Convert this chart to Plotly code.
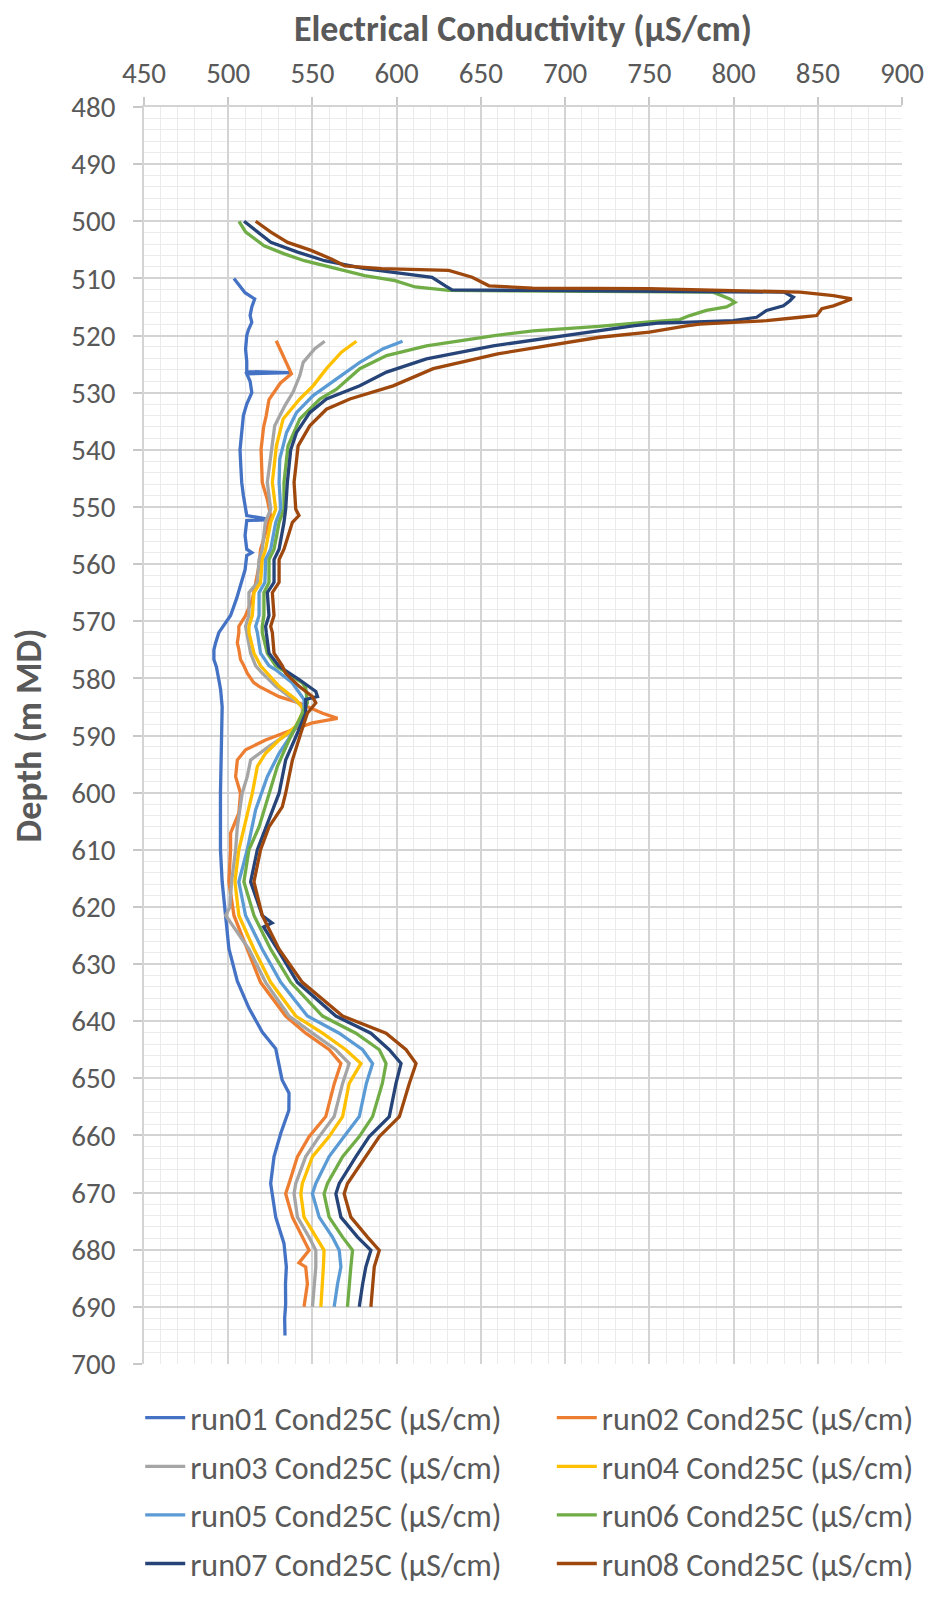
import plotly.graph_objects as go

# ---------------- data (depth in m MD, conductivity in µS/cm) ----------------
names = ["run01 Cond25C (µS/cm)", "run02 Cond25C (µS/cm)", "run03 Cond25C (µS/cm)",
         "run04 Cond25C (µS/cm)", "run05 Cond25C (µS/cm)", "run06 Cond25C (µS/cm)",
         "run07 Cond25C (µS/cm)", "run08 Cond25C (µS/cm)"]
colors = ["#4472C4", "#ED7D31", "#A5A5A5", "#FFC000", "#5B9BD5", "#70AD47", "#264478", "#9E480E"]

d01 = [510, 511, 512.5, 513.6, 515, 516.5, 517.7, 519, 520, 522.4, 524.5, 526.3, 526.5, 526.7, 528,
       530, 532, 534, 537, 540, 543, 545.7, 548, 551.5, 552.2, 552.4, 555, 557.4, 558, 558.5, 561,
       563.2, 566, 569, 571, 572, 573.8, 575, 576.7, 578, 580.2, 582, 585, 590, 594.3, 600, 605,
       610, 615.6, 621.4, 627.3, 633, 637.7, 641.9, 644.8, 647.7, 650.3, 652.6, 655.6, 659.6,
       663.7, 668.4, 674.3, 678.9, 683, 686, 689.5, 692, 695]
v01 = [503.4, 506, 510, 515.7, 514, 513, 514, 512, 511, 510.3, 511, 511, 537, 511, 513,
       514, 511, 509, 508, 507, 507.5, 508, 509, 511, 525, 511, 510, 511, 514, 511, 510,
       508, 505, 501.4, 497, 494.4, 492.5, 491.5, 491.5, 493, 494.4, 495.5, 496.4, 496, 495.4, 495.4, 495.4,
       495.4, 496.4, 498.4, 500.4, 505.4, 512.3, 520.2, 528.2, 530.2, 532, 536.1, 536, 531.2,
       527.2, 525.2, 528.2, 533.1, 534.5, 534, 534.1, 533.5, 533.7]

d02 = [520.9, 522.9, 525.3, 526.7, 528.3, 531.2, 534.1, 536, 539.9, 543, 545.7, 548.7, 551.6, 554.5,
       557.4, 560.3, 563.2, 566.2, 569, 570.9, 572, 573.8, 574.9, 576.7, 577.8, 579.1, 580.7, 581.4,
       583.2, 584.3, 586.1, 587, 587.8, 589, 590.8, 592.5, 594.3, 597.2, 600.1, 603.6, 607.1, 610,
       615.6, 621.5, 627.4, 633.2, 639.1, 642.1, 645, 647.4, 650.9, 656.7, 660.2, 663.7, 668.4,
       670.2, 674.3, 677.8, 680.1, 682.3, 683, 686, 690]
v02 = [528.5, 531.6, 535.5, 537.5, 531, 524.2, 522.5, 521, 519.5, 519.8, 520.2, 523.2, 525.2, 522.2,
       519.2, 518.3, 516.3, 514.3, 510.3, 506.3, 506.3, 505.4, 506.3, 507.3, 509.3, 511.3, 515, 518.3,
       530.2, 542.1, 556, 564.9, 550, 538.1, 522.2, 510.3, 505.4, 504.4, 507.3, 506.3, 501.4, 501.4,
       500.4, 503.4, 511.3, 519.2, 534.1, 546, 560, 566.9, 563, 557.9, 548, 541.1, 536.1,
       534.1, 538.1, 544, 548, 542, 546, 547, 545]

d03 = [521, 522.3, 524.7, 527, 529.9, 532.3, 535.8, 540.5, 545.7, 550.4, 552.7, 557.4, 559.2, 563.2,
       565, 569, 570.9, 572, 575.6, 577.8, 579.1, 581.4, 583.7, 584.9, 587.3, 589.6, 591.9, 594.3,
       597.2, 600.1, 606, 610, 615.6, 620, 621.5, 623, 627.4, 633.2, 639.1, 642.1, 645, 647.4,
       650.9, 656.7, 660.2, 663.7, 668.4, 670.2, 674.3, 677.8, 680.1, 683, 686, 690]
v03 = [557.3, 551.4, 544.5, 542.5, 538.5, 533.6, 527.6, 525.6, 523.2, 525.2, 522, 520.2, 518.3, 517.3,
       512.3, 512.3, 510.3, 511, 513.3, 516.3, 520.2, 528.2, 538.1, 544, 544, 536.1, 524.2, 513.3,
       511.3, 508.3, 505.4, 504.4, 502, 501, 498.5, 502, 512.3, 522.2, 536.1, 550, 563.9, 571.8,
       567.9, 562.9, 554, 546, 540.1, 539.1, 541.1, 548, 552, 552, 551, 550]

d04 = [521, 522.9, 525.8, 528.8, 531.1, 534.6, 539.3, 545.7, 550.4, 552.7, 557.4, 559.2, 563.2, 565,
       569, 570.9, 572, 575.6, 577.8, 579.1, 581.4, 583.7, 585.5, 588.4, 590.8, 593.1, 595.4, 600.1,
       606, 610, 615.6, 621.5, 627.4, 633.2, 639.1, 642.1, 645, 647.4, 650.9, 656.7, 660.2, 663.7,
       668.4, 670.2, 674.3, 677.8, 680.1, 683, 686, 690]
v04 = [576.1, 567.2, 558.3, 550.4, 542.5, 532.6, 528.6, 526.2, 528.2, 525.2, 522.2, 520.2, 519.2, 515.3,
       514.3, 512.3, 512.3, 515.3, 519.2, 523.2, 530.2, 540.1, 545, 540.1, 530.2, 522.2, 517.3, 514.3,
       509.3, 506.3, 504, 506.3, 515.3, 525.2, 540.1, 556, 569.8, 578.8, 571.8, 567.9, 559.9, 550,
       544, 543.1, 545, 552, 556.9, 556.5, 556, 555]

d05 = [521, 522.3, 524.7, 527.6, 530.5, 533.5, 537, 541.6, 545.7, 550.4, 552.7, 557.4, 559.2, 563.2,
       565, 569, 570.9, 572, 575.6, 577.8, 578.5, 580.8, 583.7, 586.1, 589.6, 593.1, 597.2, 603, 610,
       615.6, 621.5, 627.4, 633.2, 639.1, 642.1, 645, 647.4, 650.9, 656.7, 660.2, 663.7, 668.4,
       670.2, 674.3, 677.8, 680.1, 683, 686, 690]
v05 = [603.5, 592, 578.1, 564.3, 550.4, 540.5, 534.6, 530.6, 530.2, 531.2, 528.2, 525.2, 522.2, 521.8,
       518.3, 518.3, 516.3, 517.3, 519.2, 524.2, 528.2, 538.1, 545, 545, 538.1, 530.2, 523.2, 516.3, 511.3,
       506.3, 510.3, 520.2, 531.2, 547, 565.9, 579.8, 585.7, 582, 577.8, 568.8, 559.9, 552,
       550, 554, 561.9, 565.9, 566.9, 564.9, 562.9]

d06 = [500, 501.9, 504.3, 505.7, 506.9, 508, 509.5, 510.4, 511.5, 512.1, 512.2, 512.4, 513.6, 514.2,
       515, 515.6, 516.5, 517.2, 517.6, 518.4, 519.2, 520, 521.8, 523.5, 525.8, 529.4, 531.1, 534.6,
       539.3, 545.7, 550.4, 552.7, 557.4, 559.2, 563.2, 565, 569, 570.9, 572, 575.6, 577.8, 578.5,
       580.8, 581.7, 584.3, 587.3, 590.8, 595.4, 600.1, 606, 610, 615.6, 621.5, 627.4, 633.2, 639.1,
       642.1, 645, 647.4, 650.9, 656.7, 660.2, 663.7, 668.4, 670.2, 674.3, 677.8, 680.1, 683, 686, 690]
v06 = [506.4, 510.4, 521.3, 533.3, 545.2, 561.2, 581, 599, 611, 630.9, 700, 787.9, 797.8, 800.8,
       795.8, 783.9, 774, 768, 750, 720, 681, 658, 617.7, 594, 578.1, 564.3, 554.4, 542.5,
       535.5, 533.1, 533.1, 530.2, 527.2, 524.2, 524.2, 521.2, 521.2, 520.2, 520.2, 523.2, 528.2, 532.1,
       544, 546, 547, 542.1, 536.1, 529.2, 524.2, 518.3, 512.3, 509.3, 515.3, 525.2, 537.1, 556,
       575.8, 589.7, 593.7, 591.5, 585.7, 577.8, 567.9, 558.9, 556.9, 559.9, 567.9, 573.8, 572.8, 571.8, 570.8]

d07 = [500, 501.9, 503.7, 505.4, 506.9, 508.3, 509.2, 509.8, 511.3, 512, 512.1, 512.2, 512.4, 513.3,
       513.9, 514.8, 515.6, 516.8, 517.4, 517.7, 517.8, 518.3, 520, 521.8, 524.1, 526.4, 528.8, 531.1,
       533.5, 537, 540, 545.7, 550.4, 552.7, 557.4, 559.2, 563.2, 565, 569, 570.9, 572, 575.6, 577.9,
       580.2, 582.3, 583.2, 583.7, 586.1, 589.6, 594.3, 600.1, 606, 610, 615.6, 621.5, 622.8, 623.5,
       627.4, 633.2, 639.1, 642.1, 645, 647.4, 650.9, 656.7, 660.2, 663.7, 668.4, 670.2, 674.3, 677.8,
       680.1, 683, 686, 690]
v07 = [509.4, 517.3, 525.3, 541.2, 557.2, 581, 607, 621, 628.9, 632.9, 680, 760, 830, 835.5,
       833.5, 829.6, 819.6, 813.7, 799.8, 770, 756.3, 740.3, 700.6, 657.3, 617.7, 594, 578.1, 558.3,
       548.4, 540.5, 537.1, 535.1, 534.1, 533.1, 530.2, 527.2, 527.2, 523.2, 524.2, 522.2, 522.6, 524.2, 530.2,
       542.1, 552, 553, 546, 546, 541.1, 534.1, 530.2, 522.2, 517.3, 513.3, 520.2, 526, 521,
       529.2, 541.1, 563.9, 584.7, 595.6, 602.6, 599.6, 595.6, 583.7, 575.8, 565.9, 563.9, 566.9, 576.8,
       584.7, 581.7, 579.8, 577.8]

d08 = [500, 501.9, 503.7, 505.1, 506.6, 507.8, 508.3, 508.6, 509.8, 511.3, 511.7, 511.8, 512.4, 513,
       513.6, 514.8, 515.3, 516.5, 516.8, 517.4, 517.7, 518, 518.3, 519.1, 519.4, 520.3, 521.2, 523.2,
       525.8, 528.8, 531.1, 532.9, 535.8, 539.3, 545.7, 550.4, 551.5, 552.7, 557.4, 559.2, 563.2, 565,
       569, 570.9, 572, 575.6, 577.8, 579.1, 581.4, 583.2, 584.3, 586.1, 589.6, 594.3, 600.1, 602.5,
       606, 610, 615.6, 621.5, 627.4, 633.2, 639.1, 642.1, 645, 647.4, 650.9, 656.7, 660.2, 663.7,
       668.4, 670.2, 674.3, 677.8, 680.1, 683, 686, 690]
v08 = [516.3, 525.3, 535.3, 549.2, 561.2, 569.1, 591, 630.9, 644.8, 654.8, 680.7, 750, 839.5, 859.3,
       870.2, 859.3, 852.4, 849.4, 839.5, 819.6, 799.8, 780, 772, 756.3, 750, 720.4, 700.8, 660,
       621.7, 597.9, 572.2, 558.3, 548.4, 541.5, 539.1, 540.1, 542, 538.1, 533.1, 530.2, 530.2, 526.2,
       527.2, 525.2, 526.2, 527.2, 532.1, 534.1, 542.1, 550, 552, 547, 543.1, 538.1, 534.1, 532.1,
       524.2, 519.2, 515.3, 520.2, 530.2, 544, 567.9, 593.7, 605.6, 611.5, 607.5, 601.6, 589.7, 581.7,
       570.8, 568.8, 572.8, 582.7, 589.7, 586.7, 585.7, 584.7]

depths = [d01, d02, d03, d04, d05, d06, d07, d08]
values = [v01, v02, v03, v04, v05, v06, v07, v08]

x_ticks = [450, 500, 550, 600, 650, 700, 750, 800, 850, 900]
y_ticks = [480, 490, 500, 510, 520, 530, 540, 550, 560, 570, 580, 590, 600, 610, 620, 630, 640,
           650, 660, 670, 680, 690, 700]

# ---------------- figure ----------------
FONT = "Calibri, Carlito, Lato, sans-serif"
TXT = "#595959"
LEG_FONT = dict(size=32, color=TXT, family=FONT)
fig = go.Figure()
for i, (nm, col, d, v) in enumerate(zip(names, colors, depths, values)):
    fig.add_trace(go.Scatter(x=v, y=d, mode="lines", name=nm,
                             legend="legend" if i % 2 == 0 else "legend2",
                             legendgroup=nm,
                             line=dict(color=col, width=3.3)))

fig.update_layout(
    width=930, height=1600,
    margin=dict(l=144, r=28, t=107, b=236, autoexpand=False),
    paper_bgcolor="white", plot_bgcolor="white",
    font=dict(family=FONT, color=TXT, size=29),
    legend=dict(orientation="v", x=-0.005, xanchor="left", y=-0.021, yanchor="top",
                font=LEG_FONT, itemwidth=40, tracegroupgap=4, bgcolor="rgba(0,0,0,0)"),
    legend2=dict(orientation="v", x=0.538, xanchor="left", y=-0.021, yanchor="top",
                 font=LEG_FONT, itemwidth=40, tracegroupgap=4, bgcolor="rgba(0,0,0,0)"),
)
fig.update_xaxes(
    side="top", range=[450, 900], tickvals=x_ticks, ticktext=[str(t) for t in x_ticks],
    showgrid=True, gridcolor="#D4D4D4", gridwidth=1.5,
    showline=True, linecolor="#D4D4D4", linewidth=1.5,
    ticks="outside", ticklen=8, tickcolor="#C8C8C8", tickwidth=1.5,
    ticklabelstandoff=3,
    tickfont=dict(size=29, color=TXT, family=FONT),
    minor=dict(dtick=10, showgrid=True, gridcolor="#EBEBEB", gridwidth=1),
    zeroline=False,
    title=dict(text="<b>Electrical Conductivity (µS/cm)</b>", font=dict(size=36, color=TXT, family=FONT),
               standoff=2),
)
fig.update_yaxes(
    range=[700, 480], tickvals=y_ticks, ticktext=[str(t) for t in y_ticks],
    showgrid=True, gridcolor="#D4D4D4", gridwidth=1.5,
    showline=True, linecolor="#D4D4D4", linewidth=1.5,
    ticks="outside", ticklen=9, tickcolor="#C8C8C8", tickwidth=1.5,
    ticklabelstandoff=12,
    tickfont=dict(size=29, color=TXT, family=FONT),
    minor=dict(dtick=2, showgrid=True, gridcolor="#EBEBEB", gridwidth=1),
    zeroline=False,
    title=dict(text="<b>Depth (m MD)</b>", font=dict(size=36, color=TXT, family=FONT), standoff=19),
)

fig.write_html("out.html")
